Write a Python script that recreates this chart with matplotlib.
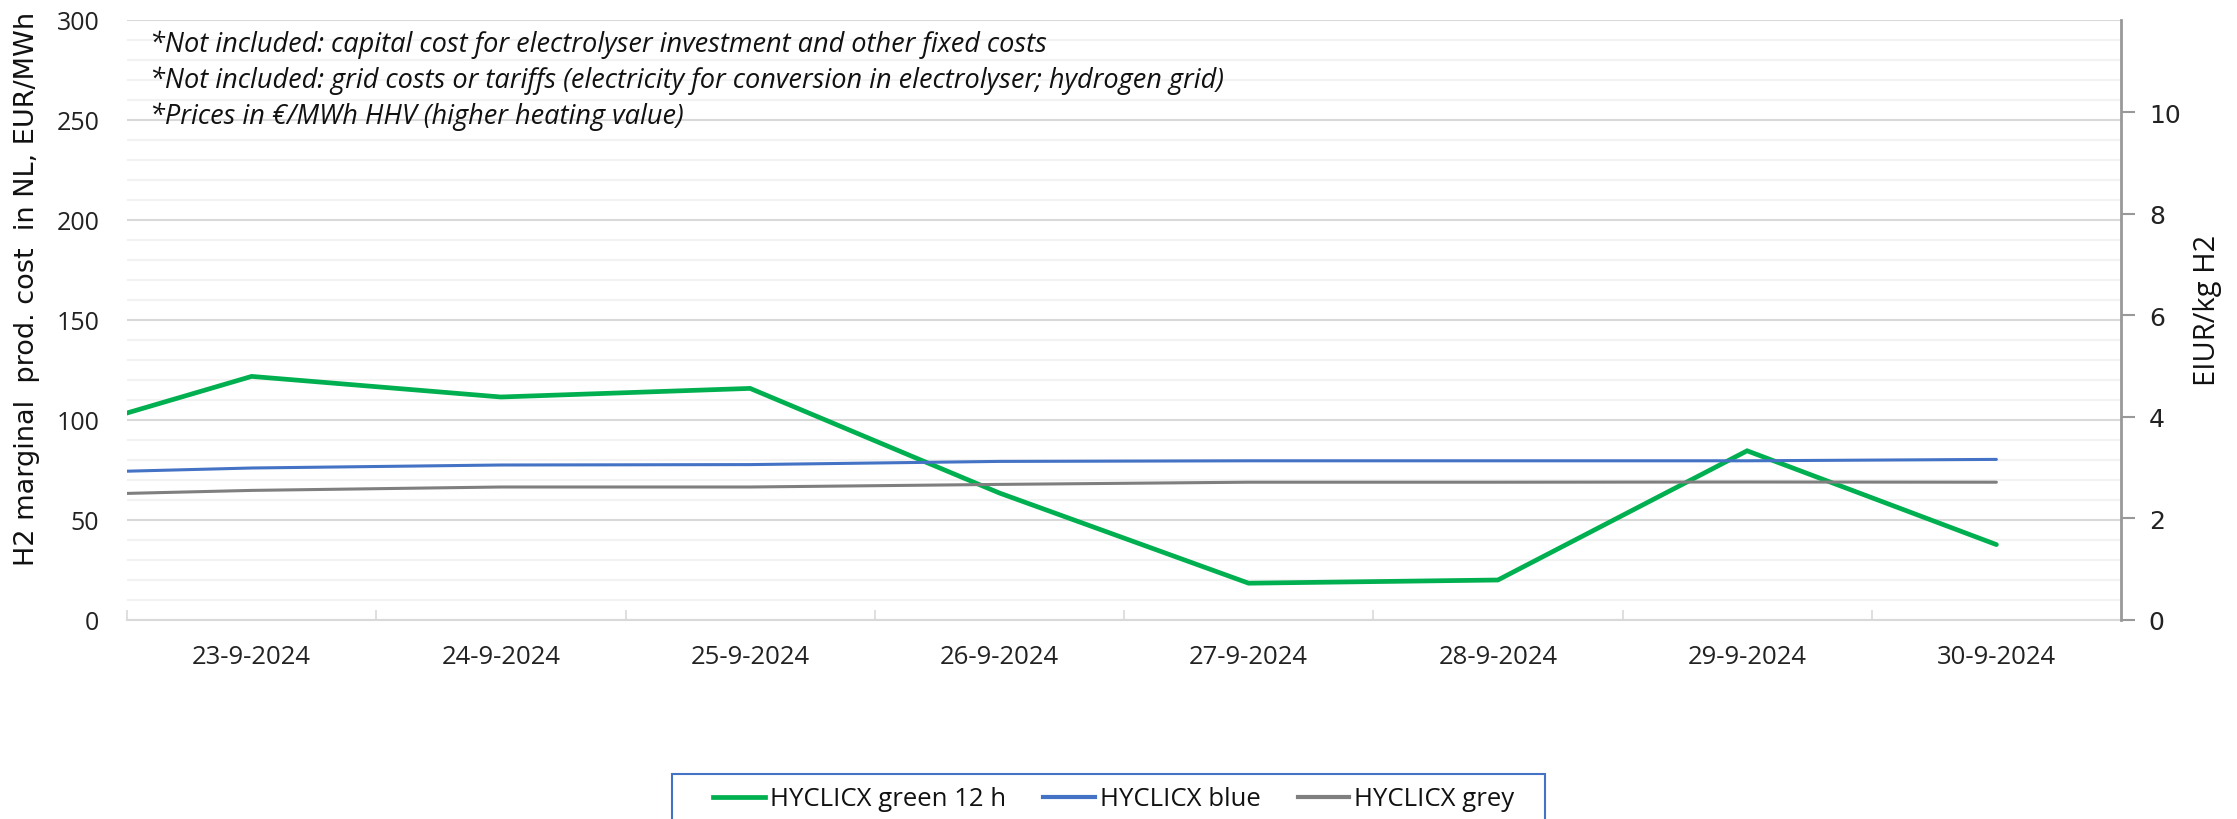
import matplotlib
matplotlib.use("Agg")
import matplotlib.pyplot as plt
from matplotlib import font_manager as fm
from matplotlib.lines import Line2D
from matplotlib.patches import Rectangle
from matplotlib.ticker import MultipleLocator, FixedLocator, NullFormatter

names = {f.name for f in fm.fontManager.ttflist}
NARROW = "Liberation Sans Narrow" if "Liberation Sans Narrow" in names else "Open Sans"
WIDE = "DejaVu Sans"

# ---------------- data ----------------
dates = ["22-9-2024", "23-9-2024", "24-9-2024", "25-9-2024", "26-9-2024",
         "27-9-2024", "28-9-2024", "29-9-2024", "30-9-2024"]
green = [85.2, 121.8, 111.5, 115.8, 63.5, 18.4, 20.0, 84.6, 37.7]
blue = [72.8, 76.0, 77.5, 77.7, 79.3, 79.6, 79.6, 79.6, 80.3]
grey = [61.8, 64.8, 66.5, 66.5, 67.8, 68.9, 68.9, 69.0, 68.9]
series_names = ["HYCLICX green 12 h", "HYCLICX blue", "HYCLICX grey"]
colors = ["#00B050", "#4472C4", "#7F7F7F"]
left_ticks = [0, 50, 100, 150, 200, 250, 300]
right_ticks = [0, 2, 4, 6, 8, 10]
kg_per_mwh = 0.0394  # EUR/kg = EUR/MWh * 0.0394 (HHV)
notes = ["*Not included: capital cost for electrolyser investment and other fixed costs",
         "*Not included: grid costs or tariffs (electricity for conversion in electrolyser; hydrogen grid)",
         "*Prices in \u20ac/MWh HHV (higher heating value)"]

W, H = 2237, 820
fig = plt.figure(figsize=(W / 100, H / 100), dpi=100)
ax = fig.add_axes([127 / W, 1 - 621 / H, (2121 - 127) / W, 600 / H])

x = list(range(len(dates)))
lw = [3.4, 2.2, 2.2]
for vals, c, l, n in zip([green, blue, grey], colors, lw, series_names):
    ax.plot(x, vals, color=c, lw=l, solid_capstyle="round", solid_joinstyle="miter", label=n, zorder=3)

ax.set_xlim(0.5, len(dates) - 0.5)
ax.set_ylim(0, 300)
ax.yaxis.set_major_locator(FixedLocator(left_ticks))
ax.yaxis.set_minor_locator(MultipleLocator(10))
ax.grid(which="major", axis="y", color="#D9D9D9", lw=1.5, zorder=1)
ax.grid(which="minor", axis="y", color="#F2F2F2", lw=1.5, zorder=0)
ax.set_xticks(x[1:])
ax.set_xticklabels(dates[1:], fontfamily=NARROW, fontsize=18.5, color="#222222")
ax.set_xticks([i + 0.5 for i in x[:-1]], minor=True)
ax.xaxis.set_minor_formatter(NullFormatter())
ax.tick_params(axis="x", which="major", length=0, pad=17)
ax.tick_params(axis="x", which="minor", direction="in", length=7, width=1.2, color="#D9D9D9")
ax.tick_params(axis="y", which="both", length=0, pad=20)
for lab in ax.get_yticklabels():
    lab.set_fontfamily(NARROW)
    lab.set_fontsize(18)
    lab.set_color("#222222")
for s in ["top", "right", "left"]:
    ax.spines[s].set_visible(False)
ax.spines["bottom"].set_color("#D9D9D9")
ax.spines["bottom"].set_linewidth(1.5)

ax2 = ax.twinx()
ax2.set_ylim(0, 300 * kg_per_mwh)
ax2.set_yticks(right_ticks)
ax2.set_yticklabels([str(t) for t in right_ticks], fontfamily=WIDE, fontsize=18, color="#222222")
ax2.tick_params(axis="y", direction="out", length=10, width=1.5, color="#999999", pad=10)
for s in ["top", "left", "bottom"]:
    ax2.spines[s].set_visible(False)
ax2.spines["right"].set_color("#999999")
ax2.spines["right"].set_linewidth(2)

fig.text(27 / W, 1 - 289 / H, "H2 marginal  prod. cost  in NL, EUR/MWh", rotation=90,
         ha="center", va="center", fontfamily=WIDE, fontsize=19.5, color="#111111")
fig.text(2208 / W, 1 - 310 / H, "EIUR/kg H2", rotation=90, ha="center", va="center",
         fontfamily=NARROW, fontsize=21, color="#111111")

for i, t in enumerate(notes):
    ax.text(150 / W, 1 - (45 + 36 * i) / H, t, transform=fig.transFigure, ha="left", va="center",
            fontfamily=NARROW, fontstyle="italic", fontsize=19.5, color="#111111")

# legend: frame drawn as a box that runs off the bottom edge, like the reference
fig.patches.append(Rectangle((672 / W, -0.05), (1545 - 672) / W, 0.05 + 1 - 775 / H,
                             transform=fig.transFigure, facecolor="white",
                             edgecolor="#4472C4", lw=1.5, zorder=0))
handles = [Line2D([], [], color=c, lw=l) for c, l in zip(colors, [3.4, 3.0, 3.0])]
leg = fig.legend(handles, series_names, loc="center", bbox_to_anchor=(1114 / W, 1 - 800 / H),
                 ncol=3, frameon=False, borderpad=0, borderaxespad=0,
                 handlelength=2.0, handletextpad=0.2, columnspacing=1.45,
                 prop={"family": NARROW, "size": 18.5})
for t in leg.get_texts():
    t.set_color("#111111")

fig.savefig("out.png", dpi=100)
